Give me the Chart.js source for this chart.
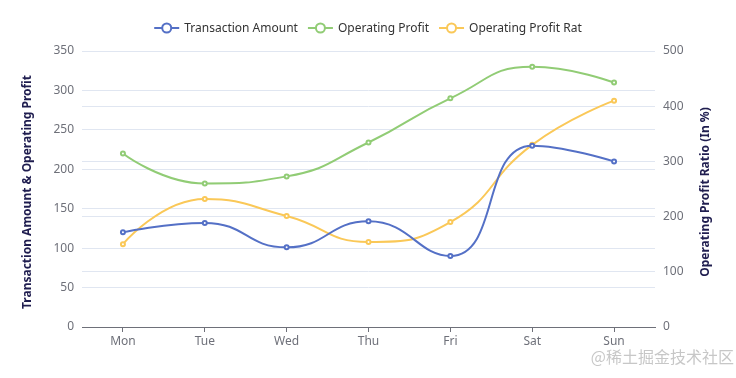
<!DOCTYPE html>
<html>
<head>
<meta charset="utf-8">
<script src="https://cdn.jsdelivr.net/npm/chart.js@4/dist/chart.umd.min.js"></script>
<style>
  html, body { margin: 0; padding: 0; background: #fff; }
  #wrap { width: 736px; height: 378px; position: relative; }
</style>
</head>
<body>
<div id="wrap"><canvas id="chart" width="736" height="378"></canvas></div>
<script>
// data
const days = ['Mon', 'Tue', 'Wed', 'Thu', 'Fri', 'Sat', 'Sun'];
const transactionAmount = [120, 132, 101, 134, 90, 230, 210];
const operatingProfit = [220, 182, 191, 234, 290, 330, 310];
const operatingProfitRatio = [150, 232, 201, 154, 190, 330, 410];
const seriesNames = ['Transaction Amount', 'Operating Profit', 'Operating Profit Rat'];
const seriesColors = ['#5470c6', '#91cc75', '#fac858'];
const leftTitle = 'Transaction Amount & Operating Profit';
const rightTitle = 'Operating Profit Ratio (In %)';
const watermarkText = '@稀土掘金技术社区';

const FONT = '"Noto Sans", "Open Sans", sans-serif';
const AXIS_GREY = '#6e7079';
const GRID = '#e0e6f1';
const SMOOTH = 0.5;

function lineDataset(i, data, axis) {
  return {
    label: seriesNames[i],
    data: data,
    yAxisID: axis,
    borderColor: seriesColors[i],
    backgroundColor: '#fff',
    borderWidth: 2,
    pointRadius: 2,
    pointBorderWidth: 2,
    pointBackgroundColor: '#fff',
    pointBorderColor: seriesColors[i],
    tension: SMOOTH,
    fill: false
  };
}

const clamp = (v, a, b) => Math.max(Math.min(v, Math.max(a, b)), Math.min(a, b));

// smoothing with control points kept between neighbours (no overshoot)
function constrainedSmooth(points) {
  const n = points.length;
  if (n < 2) return;
  points[0].cp2x = points[0].x;
  points[0].cp2y = points[0].y;
  points[n - 1].cp1x = points[n - 1].x;
  points[n - 1].cp1y = points[n - 1].y;
  for (let i = 1; i < n - 1; i++) {
    const p = points[i], prev = points[i - 1], next = points[i + 1];
    const lenPrev = Math.hypot(p.x - prev.x, p.y - prev.y);
    const lenNext = Math.hypot(next.x - p.x, next.y - p.y);
    const ratio = lenNext / (lenNext + lenPrev);
    let vx = next.x - prev.x;
    let vy = next.y - prev.y;
    let nx = clamp(p.x + vx * SMOOTH * ratio, next.x, p.x);
    let ny = clamp(p.y + vy * SMOOTH * ratio, next.y, p.y);
    vx = nx - p.x;
    vy = ny - p.y;
    let cx = clamp(p.x - vx * lenPrev / lenNext, prev.x, p.x);
    let cy = clamp(p.y - vy * lenPrev / lenNext, prev.y, p.y);
    vx = p.x - cx;
    vy = p.y - cy;
    p.cp1x = cx;
    p.cp1y = cy;
    p.cp2x = p.x + vx * lenNext / lenPrev;
    p.cp2y = p.y + vy * lenNext / lenPrev;
  }
}

const smoothing = {
  id: 'smoothing',
  beforeDatasetsDraw(chart) {
    chart.data.datasets.forEach((ds, i) => {
      const meta = chart.getDatasetMeta(i);
      if (!meta.dataset) return;
      meta.dataset.updateControlPoints(chart.chartArea, meta.indexAxis);
      constrainedSmooth(meta.data);
    });
  }
};

// legend, axis names and watermark drawn by hand
const decorations = {
  id: 'decorations',
  afterDraw(chart) {
    const ctx = chart.ctx;
    const area = chart.chartArea;
    ctx.save();

    // legend
    ctx.font = '12px ' + FONT;
    const widths = seriesNames.map(n => ctx.measureText(n).width);
    const total = widths.reduce((a, w) => a + 25 + 5 + w, 0) + 10 * (seriesNames.length - 1);
    let x = chart.width / 2 - total / 2;
    const ly = 28;
    seriesNames.forEach((name, i) => {
      ctx.strokeStyle = seriesColors[i];
      ctx.lineWidth = 2;
      ctx.beginPath();
      ctx.moveTo(x, ly);
      ctx.lineTo(x + 25, ly);
      ctx.stroke();
      ctx.beginPath();
      ctx.arc(x + 12.5, ly, 4.5, 0, Math.PI * 2);
      ctx.fillStyle = '#fff';
      ctx.fill();
      ctx.stroke();
      ctx.fillStyle = '#333';
      ctx.textAlign = 'left';
      ctx.textBaseline = 'middle';
      ctx.fillText(name, x + 30, ly + 1);
      x += 25 + 5 + widths[i] + 10;
    });

    // axis names
    const midY = (area.top + area.bottom) / 2 + 3;
    ctx.font = 'bold 12px ' + FONT;
    ctx.fillStyle = '#1f1d4f';
    ctx.textAlign = 'center';
    ctx.textBaseline = 'middle';
    [[28, leftTitle], [706, rightTitle]].forEach(([tx, txt]) => {
      ctx.save();
      ctx.translate(tx, midY);
      ctx.rotate(-Math.PI / 2);
      ctx.fillText(txt, 0, 0);
      ctx.restore();
    });

    // watermark
    ctx.font = '16px "Noto Sans CJK SC", sans-serif';
    ctx.fillStyle = 'rgba(175,175,175,0.7)';
    ctx.textAlign = 'right';
    ctx.fillText(watermarkText, 734, 357);

    ctx.restore();
  }
};

new Chart(document.getElementById('chart'), {
  type: 'line',
  data: {
    labels: days,
    datasets: [
      lineDataset(0, transactionAmount, 'y'),
      lineDataset(1, operatingProfit, 'y'),
      lineDataset(2, operatingProfitRatio, 'y1')
    ]
  },
  options: {
    responsive: false,
    animation: false,
    layout: { padding: { top: 51, left: 0, right: 0, bottom: 0 } },
    plugins: {
      legend: { display: false },
      tooltip: { enabled: false }
    },
    scales: {
      x: {
        offset: true,
        grid: {
          display: true,
          offset: false,
          drawOnChartArea: false,
          drawTicks: true,
          tickLength: 5,
          color: AXIS_GREY
        },
        border: { display: true, color: AXIS_GREY, width: 1 },
        ticks: { color: AXIS_GREY, font: { family: FONT, size: 12 }, padding: 2, maxRotation: 0 },
        afterFit(scale) { scale.height = 51; }
      },
      y: {
        position: 'left',
        min: 0,
        max: 350,
        ticks: { stepSize: 50, color: AXIS_GREY, font: { family: FONT, size: 12 }, padding: 8 },
        grid: { color: GRID, drawTicks: false },
        border: { display: false },
        afterFit(scale) { scale.width = 82; }
      },
      y1: {
        position: 'right',
        min: 0,
        max: 500,
        ticks: { stepSize: 100, color: AXIS_GREY, font: { family: FONT, size: 12 }, padding: 8 },
        grid: { color: GRID, drawTicks: false },
        border: { display: false },
        afterFit(scale) { scale.width = 81; }
      }
    }
  },
  plugins: [smoothing, decorations]
});
</script>
</body>
</html>
